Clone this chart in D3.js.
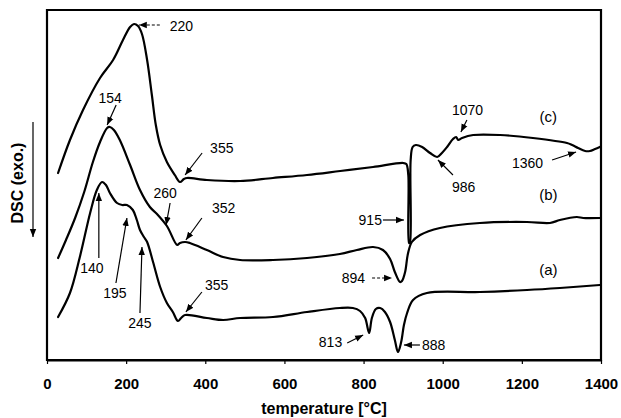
<!DOCTYPE html>
<html>
<head>
<meta charset="utf-8">
<script src="https://cdn.jsdelivr.net/npm/d3@7"></script>
<style>
  body { margin: 0; background: #fff; }
  svg { display: block; }
  text { font-family: "Liberation Sans", Arial, sans-serif; fill: #000; }
</style>
</head>
<body>
<svg id="chart" width="621" height="418"></svg>
<script>
// DSC traces (arbitrary signal units, offset per sample) versus temperature in °C
const tempTicks = [0, 200, 400, 600, 800, 1000, 1200, 1400];

const tempC = [28, 58, 91, 134, 167, 192, 210, 220, 230, 240, 253, 265, 275, 286, 303, 323, 336, 346, 354, 404, 488, 571, 657, 741, 824, 900, 908, 913, 915, 917, 919, 924, 932, 948, 968, 986, 998, 1011, 1026, 1034, 1039, 1049, 1077, 1145, 1228, 1314, 1327, 1342, 1360, 1372, 1385, 1397];
const dscC  = [187, 220, 250, 282, 300, 320, 333, 336, 334, 326, 300, 265, 235, 215, 198, 185, 178, 181, 182, 180, 179, 182, 185, 189, 193, 197, 196, 185, 117, 117, 200, 213, 215, 213, 207, 203, 207, 213, 221, 223, 220, 222, 225, 225, 222, 217, 215, 212, 209, 209, 211, 213];

const tempB = [28, 48, 71, 94, 116, 134, 152, 159, 169, 184, 210, 235, 260, 278, 303, 329, 336, 349, 361, 404, 445, 488, 571, 657, 740, 783, 824, 849, 867, 879, 892, 897, 905, 912, 922, 943, 993, 1094, 1213, 1271, 1296, 1339, 1355, 1397];
const dscB  = [102, 120, 142, 168, 198, 218, 232, 233, 230, 220, 195, 170, 153, 146, 134, 115, 117, 118, 117, 110, 103, 100, 100, 102, 106, 110, 113, 110, 101, 88, 78, 79, 88, 106, 118, 125, 132, 137, 138, 137, 140, 143, 142, 142];

const tempA = [28, 58, 83, 109, 126, 139, 149, 159, 177, 190, 202, 217, 227, 235, 245, 253, 268, 286, 303, 318, 331, 339, 349, 404, 445, 488, 571, 657, 740, 773, 791, 804, 814, 821, 831, 842, 854, 867, 879, 887, 895, 902, 910, 925, 960, 1094, 1213, 1296, 1397];
const dscA  = [43, 67, 103, 147, 170, 178, 175, 167, 157, 155, 155, 150, 140, 130, 123, 118, 98, 73, 57, 48, 39, 42, 45, 42, 40, 42, 43, 48, 52, 52, 49, 42, 27, 42, 51, 52, 48, 38, 20, 8, 18, 35, 47, 60, 67, 68, 70, 72, 75];

const seriesNames = ["(a)", "(b)", "(c)"];
const seriesLabelTemp = [1267, 1267, 1267];
const seriesLabelDsc  = [85, 160, 238];

// Peak temperature callouts: arrow tip in data space
const peakLabels = ["220", "154", "355", "260", "352", "140", "195", "245", "355", "915", "894", "813", "888", "986", "1070", "1360"];
const peakTipTemp = [232, 152, 349, 301, 351, 131, 202, 240, 351, 902, 872, 799, 902, 988, 1046, 1337];
const peakTipDsc  = [335, 235, 185, 135, 120, 167, 142, 113, 48, 140, 82, 25, 15, 200, 228, 208];

// Callout layout (pixel offsets from the arrow tip)
const calloutLayout = [
  { tail: [21, 0],   text: [31, 6],   anchor: "start",  dash: true },
  { tail: [9, -20],  text: [3, -22],  anchor: "middle" },
  { tail: [17, -22], text: [25, -22], anchor: "start" },
  { tail: [4, -22],  text: [-1, -27], anchor: "middle" },
  { tail: [16, -22], text: [26, -27], anchor: "start" },
  { tail: [0, 65],   text: [-7, 80],  anchor: "middle" },
  { tail: [-11, 65], text: [-12, 80], anchor: "middle" },
  { tail: [-2, 66],  text: [-2, 81],  anchor: "middle" },
  { tail: [16, -20], text: [19, -22], anchor: "start" },
  { tail: [-21, 0],  text: [-22, 5],  anchor: "end" },
  { tail: [-20, 0],  text: [-27, 5],  anchor: "end", dash: true },
  { tail: [-16, 8],  text: [-21, 12], anchor: "end" },
  { tail: [16, 0],   text: [18, 5],   anchor: "start" },
  { tail: [15, 15],  text: [14, 32],  anchor: "start" },
  { tail: [6, -12],  text: [-9, -17], anchor: "start" },
  { tail: [-24, 8],  text: [-33, 16], anchor: "end" }
];

const margin = { left: 47, right: 20, top: 10, bottom: 58 };
const W = 621, H = 418;
const svg = d3.select("#chart");

const x = d3.scaleLinear().domain([0, 1400]).range([margin.left, W - margin.right]);
const y = d3.scaleLinear().domain([0, 350]).range([H - margin.bottom, margin.top]);

svg.append("defs").append("marker")
  .attr("id", "head")
  .attr("viewBox", "0 -4 8 8")
  .attr("refX", 8).attr("refY", 0)
  .attr("markerWidth", 8).attr("markerHeight", 8)
  .attr("markerUnits", "userSpaceOnUse")
  .attr("orient", "auto")
  .append("path").attr("d", "M0,-3.2L8,0L0,3.2Z").attr("fill", "#000");

// Plot frame, drawn as one closed path around the scale extents
const xr = x.range(), yr = y.range();
svg.append("path")
  .attr("d", `M${xr[0]},${yr[1]}H${xr[1]}V${yr[0]}H${xr[0]}Z`)
  .attr("fill", "none")
  .attr("stroke", "black")
  .attr("stroke-width", 2.2);

// Bottom axis
const xAxis = d3.axisBottom(x).tickValues(tempTicks).tickFormat(d3.format("d"))
  .tickSize(4).tickPadding(14).tickSizeOuter(0);
const gx = svg.append("g").attr("transform", `translate(0,${y(0)})`).call(xAxis);
gx.select(".domain").attr("stroke", "black").attr("stroke-width", 2.2);
gx.selectAll(".tick line").attr("stroke", "#000").attr("stroke-width", 1.2);
gx.selectAll(".tick text").attr("font-size", 15).attr("font-weight", "bold").attr("fill", "#000");

// Axis titles
svg.append("text")
  .attr("x", (xr[0] + xr[1]) / 2).attr("y", 414)
  .attr("text-anchor", "middle").attr("font-size", 16).attr("font-weight", "bold")
  .text("temperature [°C]");

svg.append("text")
  .attr("transform", "translate(23,183) rotate(-90)")
  .attr("text-anchor", "middle").attr("font-size", 16).attr("font-weight", "bold")
  .text("DSC (exo.)");

svg.append("line")
  .attr("x1", 33).attr("x2", 33).attr("y1", 122).attr("y2", 237)
  .attr("stroke", "#000").attr("stroke-width", 1.2)
  .attr("marker-end", "url(#head)");

// Curves
const line = d3.line()
  .x(d => x(d[0])).y(d => y(d[1]))
  .curve(d3.curveCatmullRom.alpha(0.5));

const series = [
  d3.zip(tempA, dscA),
  d3.zip(tempB, dscB),
  d3.zip(tempC, dscC)
];

svg.append("g").selectAll("path").data(series).join("path")
  .attr("d", line)
  .attr("fill", "none").attr("stroke", "#000")
  .attr("stroke-width", 2.2).attr("stroke-linejoin", "round").attr("stroke-linecap", "round");

// Series labels
svg.append("g").selectAll("text").data(seriesNames).join("text")
  .attr("x", (d, i) => x(seriesLabelTemp[i]))
  .attr("y", (d, i) => y(seriesLabelDsc[i]))
  .attr("text-anchor", "middle").attr("font-size", 15)
  .text(d => d);

// Peak callouts
const callouts = svg.append("g").selectAll("g").data(peakLabels).join("g");
callouts.append("line")
  .attr("x1", (d, i) => x(peakTipTemp[i]) + calloutLayout[i].tail[0])
  .attr("y1", (d, i) => y(peakTipDsc[i]) + calloutLayout[i].tail[1])
  .attr("x2", (d, i) => x(peakTipTemp[i]))
  .attr("y2", (d, i) => y(peakTipDsc[i]))
  .attr("stroke", "#000").attr("stroke-width", 1.2)
  .attr("stroke-dasharray", (d, i) => calloutLayout[i].dash ? "3,2" : null)
  .attr("marker-end", "url(#head)");
callouts.append("text")
  .attr("x", (d, i) => x(peakTipTemp[i]) + calloutLayout[i].text[0])
  .attr("y", (d, i) => y(peakTipDsc[i]) + calloutLayout[i].text[1])
  .attr("text-anchor", (d, i) => calloutLayout[i].anchor)
  .attr("font-size", 14)
  .text(d => d);
</script>
</body>
</html>
